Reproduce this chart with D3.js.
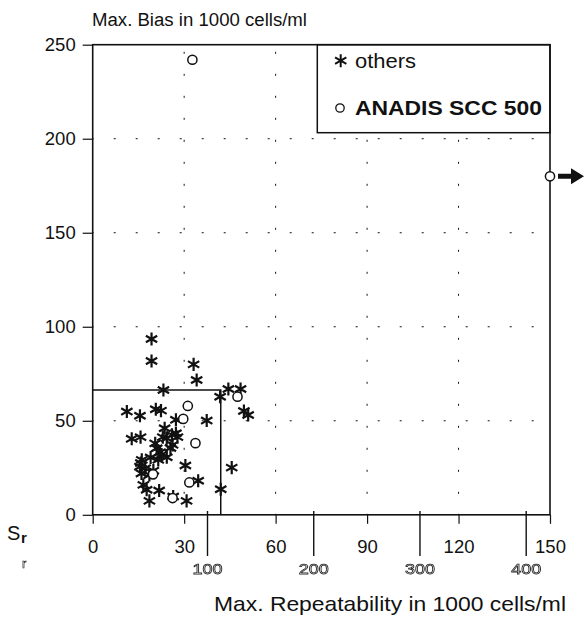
<!DOCTYPE html>
<html><head><meta charset="utf-8">
<script src="https://cdn.jsdelivr.net/npm/d3@7"></script>
<style>
html,body{margin:0;padding:0;background:#fff;}
svg{display:block;font-family:"Liberation Sans",Arial,Helvetica,sans-serif;}
</style></head>
<body>
<svg id="c" width="585" height="619"></svg>
<script>
// ---- data ----
const othersX = [19.3,19.3,33.1,34.1,23.2,41.8,44.5,48.5,49.6,51.0,11.2,15.5,20.7,22.4,27.3,37.4,23.6,27.3,27.8,23.0,12.8,15.7,26.2,21.0,22.1,24.3,21.5,16.1,15.5,17.2,19.9,18.6,30.4,45.6,16.6,17.7,21.8,18.6,26.4,30.8,34.6,42.0,24.3,22.6,26.0,20.5,15.8,16.0,19.0,25.5];
const othersY = [93.5,81.8,80.0,71.7,66.4,62.8,66.9,66.9,55.2,53.1,54.9,52.7,56.1,55.4,50.5,50.1,46.0,43.4,41.3,41.3,40.4,41.3,37.2,35.4,33.3,30.6,29.2,29.2,25.6,24.8,23.5,21.2,26.2,25.1,15.9,13.3,12.9,7.4,9.7,7.4,18.1,13.6,40.7,32.0,42.5,38.0,27.5,22.0,30.5,35.5];
const anadisX = [32.7,150,31.2,29.7,33.7,31.7,47.5,26.2,19.8];
const anadisY = [242,180,57.9,51.0,38.1,17.2,62.8,8.9,21.5];
const xTicks = [0,30,60,90,120,150];
const yTicks = [0,50,100,150,200,250];
const srTicks = [100,200,300,400];
const limitBox = [42, 66.4];
const legendLabels = ["others","ANADIS SCC 500"];

const svg = d3.select("#c");
const ink = "#111";
const defs = svg.append("defs");
defs.append("filter").attr("id","gray").append("feColorMatrix").attr("type","saturate").attr("values",0);

const x = d3.scaleLinear().domain([0,150]).range([92.7,550]);
const y = d3.scaleLinear().domain([0,250]).range([514.8,44.7]);
const xs = d3.scaleLinear().domain([100,400]).range([207,525.7]);

// gridlines (sparse dotted)
const grid = svg.append("g").attr("stroke",ink).attr("stroke-width",1).attr("stroke-dasharray","2,20").attr("stroke-dashoffset",1);
grid.selectAll(".gx").data(xTicks.slice(1,-1)).join("line")
  .attr("x1",d=>x(d)).attr("x2",d=>x(d)).attr("y1",y(0)).attr("y2",y(250));
grid.selectAll(".gy").data(yTicks.slice(1,-1)).join("line")
  .attr("x1",x(0)).attr("x2",x(150)).attr("y1",d=>y(d)).attr("y2",d=>y(d));

// legend box (covers grid)
const lg = svg.append("g");
lg.append("rect").attr("x",317.3).attr("y",y(250)).attr("width",x(150)-317.3).attr("height",132.7-y(250))
  .attr("fill","#fff").attr("stroke",ink).attr("stroke-width",1.5);

// plot frame
svg.append("rect").attr("x",x(0)).attr("y",y(250)).attr("width",x(150)-x(0)).attr("height",y(0)-y(250))
  .attr("fill","none").attr("stroke",ink).attr("stroke-width",1.6);

// limit box
svg.append("path").attr("d",`M${x(0)},${y(limitBox[1])}H${x(limitBox[0])}V${y(0)}`)
  .attr("fill","none").attr("stroke",ink).attr("stroke-width",1.5);

// y axis
const ya = svg.append("g").attr("transform",`translate(${x(0)},0)`)
  .call(d3.axisLeft(y).tickValues(yTicks).tickSize(10).tickPadding(7).tickFormat(d3.format("d")));
ya.select(".domain").remove();
ya.selectAll("line").attr("stroke",ink).attr("stroke-width",1.2);
ya.selectAll("text").attr("font-size",18.5).attr("fill",ink).attr("font-family","Liberation Sans, Arial, sans-serif");

// x axis
const xa = svg.append("g").attr("transform",`translate(0,${y(0)})`)
  .call(d3.axisBottom(x).tickValues(xTicks).tickSize(9).tickPadding(16).tickFormat(d3.format("d")));
xa.select(".domain").remove();
xa.selectAll("line").attr("stroke",ink).attr("stroke-width",1.2);
xa.selectAll("text").attr("font-size",18.5).attr("fill",ink).attr("font-family","Liberation Sans, Arial, sans-serif");

// secondary Sr axis
const sa = svg.append("g").attr("transform",`translate(0,511)`).attr("filter","url(#gray)")
  .call(d3.axisBottom(xs).tickValues(srTicks).tickSize(45).tickPadding(7).tickFormat(d3.format("d")));
sa.select(".domain").remove();
sa.selectAll("line").attr("stroke",ink).attr("stroke-width",1.4);
sa.selectAll("text").attr("font-size",15).attr("fill","#fff").attr("stroke","#222").attr("stroke-width",0.75)
  .attr("font-family","Liberation Sans, Arial, sans-serif").attr("textLength",30).attr("lengthAdjust","spacingAndGlyphs");

// Sr label
svg.append("text").attr("x",7).attr("y",540).attr("font-size",20).attr("fill",ink).text("S");
svg.append("text").attr("x",21).attr("y",543).attr("font-size",15).attr("font-weight","bold").attr("fill",ink).text("r");
svg.append("g").attr("filter","url(#gray)").append("text").attr("x",22).attr("y",568).attr("font-size",13)
  .attr("fill","#fff").attr("stroke","#222").attr("stroke-width",0.6).text("r");

// titles
svg.append("text").attr("x",92).attr("y",26).attr("font-size",18).attr("fill",ink)
  .attr("textLength",215).attr("lengthAdjust","spacingAndGlyphs").text("Max. Bias in 1000 cells/ml");
svg.append("text").attr("x",214).attr("y",611).attr("font-size",21).attr("fill",ink)
  .attr("textLength",352).attr("lengthAdjust","spacingAndGlyphs").text("Max. Repeatability in 1000 cells/ml");

// markers
const star = d3.symbol().type(d3.symbolAsterisk).size(120);
const others = d3.range(othersX.length).map(i=>[othersX[i],othersY[i]]);
const anadis = d3.range(anadisX.length).map(i=>[anadisX[i],anadisY[i]]);
svg.append("g").selectAll("path").data(others).join("path")
  .attr("transform",d=>`translate(${x(d[0])},${y(d[1])})`).attr("d",star)
  .attr("fill","none").attr("stroke",ink).attr("stroke-width",2.2);
svg.append("g").selectAll("circle").data(anadis).join("circle")
  .attr("cx",d=>x(d[0])).attr("cy",d=>y(d[1])).attr("r",4.6)
  .attr("fill","#fff").attr("stroke",ink).attr("stroke-width",1.5);

// arrow next to off-scale point
const ax = x(150), ay = y(anadisY[1]);
svg.append("path").attr("d",`M${ax+8},${ay-2.5}H${ax+21}V${ay-8}L${ax+34},${ay}L${ax+21},${ay+8}V${ay+2.5}H${ax+8}Z`).attr("fill",ink);

// legend entries
lg.append("path").attr("transform","translate(340.7,60.7)").attr("d",star).attr("fill","none").attr("stroke",ink).attr("stroke-width",2);
lg.append("text").attr("x",355).attr("y",68).attr("font-size",20).attr("fill",ink)
  .attr("textLength",61).attr("lengthAdjust","spacingAndGlyphs").text(legendLabels[0]);
lg.append("circle").attr("cx",340).attr("cy",108).attr("r",4.2).attr("fill","#fff").attr("stroke",ink).attr("stroke-width",1.3);
lg.append("text").attr("x",355).attr("y",115).attr("font-size",21).attr("font-weight","bold").attr("fill",ink)
  .attr("textLength",187).attr("lengthAdjust","spacingAndGlyphs").text(legendLabels[1]);
</script>
</body></html>
